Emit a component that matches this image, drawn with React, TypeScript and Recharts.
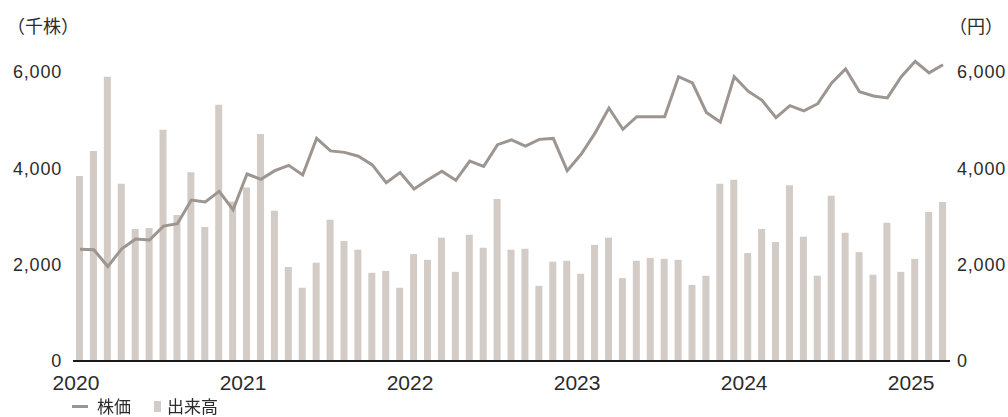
import React from 'react';
import { ComposedChart, Bar, Line, XAxis, YAxis } from 'recharts';

// 2020/01 .. 2025/03, monthly
const months = [
  '2020-01', '2020-02', '2020-03', '2020-04', '2020-05', '2020-06', '2020-07', '2020-08', '2020-09', '2020-10', '2020-11', '2020-12',
  '2021-01', '2021-02', '2021-03', '2021-04', '2021-05', '2021-06', '2021-07', '2021-08', '2021-09', '2021-10', '2021-11', '2021-12',
  '2022-01', '2022-02', '2022-03', '2022-04', '2022-05', '2022-06', '2022-07', '2022-08', '2022-09', '2022-10', '2022-11', '2022-12',
  '2023-01', '2023-02', '2023-03', '2023-04', '2023-05', '2023-06', '2023-07', '2023-08', '2023-09', '2023-10', '2023-11', '2023-12',
  '2024-01', '2024-02', '2024-03', '2024-04', '2024-05', '2024-06', '2024-07', '2024-08', '2024-09', '2024-10', '2024-11', '2024-12',
  '2025-01', '2025-02', '2025-03',
];

// 出来高（千株）
const volume = [
  3840, 4360, 5900, 3680, 2740, 2760, 4800, 3030, 3920, 2780, 5320, 3310,
  3600, 4710, 3120, 1950, 1520, 2040, 2930, 2490, 2310, 1830, 1870, 1520,
  2220, 2100, 2560, 1850, 2620, 2350, 3360, 2310, 2330, 1560, 2060, 2080,
  1810, 2410, 2560, 1720, 2080, 2140, 2120, 2100, 1580, 1770, 3680, 3760,
  2240, 2740, 2470, 3650, 2580, 1770, 3430, 2660, 2260, 1790, 2870, 1850,
  2120, 3090, 3300,
];

// 株価（円）
const price = [
  2320, 2310, 1960, 2330, 2530, 2510, 2800, 2850, 3340, 3300, 3520, 3140,
  3880, 3770, 3950, 4060, 3860, 4620, 4360, 4330, 4250, 4070, 3700, 3910,
  3570, 3760, 3940, 3750, 4150, 4040, 4490, 4590, 4460, 4600, 4620, 3950,
  4290, 4730, 5250, 4810, 5070, 5070, 5070, 5900, 5770, 5160, 4960, 5900,
  5600, 5410, 5050, 5300, 5190, 5340, 5770, 6060, 5590, 5500, 5460, 5900,
  6220, 5980, 6150,
];

const yearTicks = ['2020-01', '2021-01', '2022-01', '2023-01', '2024-01', '2025-01'];
const valueTicks = [0, 2000, 4000, 6000];

const data = months.map((m, i) => ({ month: m, volume: volume[i], price: price[i] }));

const LINE_COLOR = '#9d9590';
const BAR_COLOR = '#d3cbc5';
const TEXT_COLOR = '#2b2b2b';
const NUM_FONT = '"Liberation Sans", Arial, sans-serif';
const CJK_FONT = '"Noto Sans CJK JP", sans-serif';

const fmt = (v: number) => v.toLocaleString('en-US');

const YearTick = ({ x, y, payload }: any) => (
  <text
    x={x - 4}
    y={y}
    dy="0.71em"
    textAnchor="middle"
    fill={TEXT_COLOR}
    fontSize={21}
    fontFamily={NUM_FONT}
  >
    {String(payload.value).slice(0, 4)}
  </text>
);

const numTick = { fill: TEXT_COLOR, fontSize: 18, fontFamily: NUM_FONT, letterSpacing: 0.8 };

export default function App() {
  return (
    <div style={{ position: 'fixed', left: 0, top: 0, width: 1008, height: 417, background: '#fff' }}>
      <div
        style={{
          position: 'absolute', left: 7, top: 15, fontSize: 18, lineHeight: '20px',
          fontFamily: CJK_FONT, color: TEXT_COLOR, whiteSpace: 'nowrap',
        }}
      >
        （千株）
      </div>
      <div
        style={{
          position: 'absolute', left: 949, top: 15, fontSize: 18, lineHeight: '20px',
          fontFamily: CJK_FONT, color: TEXT_COLOR, whiteSpace: 'nowrap',
        }}
      >
        （円）
      </div>

      <ComposedChart
        width={1008}
        height={417}
        data={data}
        margin={{ top: 43, right: 8, left: 13, bottom: 26 }}
        barSize={7}
      >
        <XAxis
          dataKey="month"
          ticks={yearTicks}
          interval={0}
          tick={<YearTick />}
          tickLine={false}
          tickSize={0}
          tickMargin={14}
          height={30}
          axisLine={{ stroke: '#1a1a1a', strokeWidth: 2 }}
        />
        <YAxis
          yAxisId="left"
          orientation="left"
          width={60}
          domain={[0, 6600]}
          ticks={valueTicks}
          tickFormatter={fmt}
          axisLine={false}
          tickLine={false}
          tickSize={0}
          tickMargin={11}
          tick={numTick}
        />
        <YAxis
          yAxisId="right"
          orientation="right"
          width={50}
          domain={[0, 6600]}
          ticks={valueTicks}
          tickFormatter={fmt}
          axisLine={false}
          tickLine={false}
          tickSize={0}
          tickMargin={7}
          tick={numTick}
        />
        <Bar yAxisId="left" dataKey="volume" fill={BAR_COLOR} isAnimationActive={false} />
        <Line
          yAxisId="right"
          type="linear"
          dataKey="price"
          stroke={LINE_COLOR}
          strokeWidth={3}
          dot={false}
          activeDot={false}
          isAnimationActive={false}
        />
      </ComposedChart>

      <div
        style={{
          position: 'absolute', left: 72, top: 396, height: 20, display: 'flex', alignItems: 'center',
          fontFamily: CJK_FONT, fontSize: 17, lineHeight: '20px', color: TEXT_COLOR, whiteSpace: 'nowrap',
        }}
      >
        <span style={{ display: 'inline-block', width: 16, height: 3, background: LINE_COLOR, marginRight: 9 }} />
        <span>株価</span>
        <span style={{ display: 'inline-block', width: 7, height: 11, background: BAR_COLOR, marginLeft: 23, marginRight: 6 }} />
        <span>出来高</span>
      </div>
    </div>
  );
}
